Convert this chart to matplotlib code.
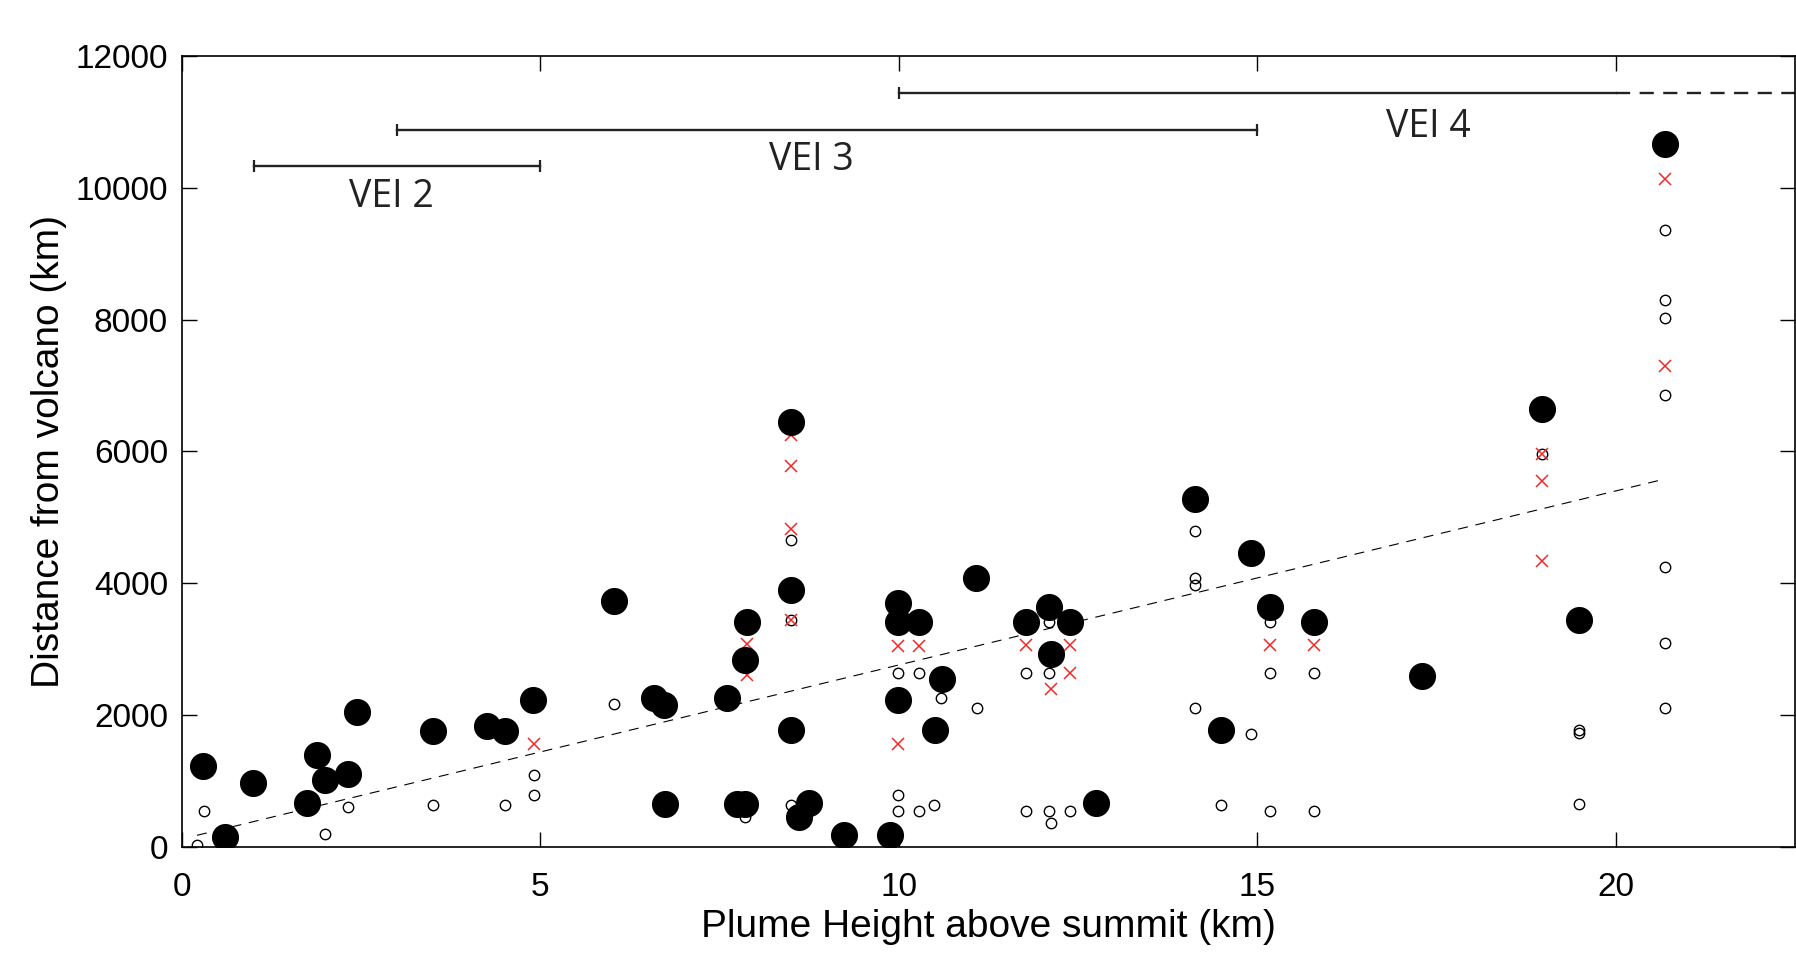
import matplotlib
matplotlib.use('Agg')
import matplotlib.pyplot as plt

# filled circles (large black)
big_x = [0.30, 0.60, 0.99, 1.75, 1.88, 1.99, 2.32, 2.44, 3.50, 4.26, 4.51, 4.90,
         6.03, 6.59, 6.72, 6.74, 7.60, 7.75, 7.85, 7.89, 7.86, 8.50, 8.50, 8.50,
         8.61, 8.75, 9.24, 9.88, 9.99, 9.99, 9.99, 10.28, 10.50, 10.60, 11.08,
         11.78, 12.09, 12.12, 12.39, 12.75, 14.13, 14.50, 14.92, 15.18, 15.79,
         17.30, 18.97, 19.49, 20.69]
big_y = [1235, 152, 977, 663, 1397, 1013, 1114, 2041, 1767, 1828, 1767, 2228,
         3732, 2263, 2152, 659, 2263, 659, 659, 3409, 2831, 6447, 3899, 1768,
         456, 668, 188, 188, 3697, 3418, 2228, 3418, 1768, 2547, 4086,
         3413, 3646, 2923, 3413, 668, 5282, 1773, 4466, 3646, 3413,
         2598, 6644, 3445, 10668]

# small open circles
open_x = [0.21, 0.31, 2.00, 2.32, 3.50, 4.51, 4.91, 4.91, 6.03, 7.86, 8.50, 8.50,
          8.50, 9.99, 9.99, 9.99, 10.28, 10.28, 10.49, 10.59, 11.09, 11.78, 11.78,
          12.09, 12.09, 12.09, 12.12, 12.39, 14.13, 14.13, 14.13, 14.13, 14.50,
          14.92, 15.18, 15.18, 15.18, 15.79, 15.79, 18.97, 19.49, 19.49, 19.49,
          20.69, 20.69, 20.69, 20.69, 20.69, 20.69, 20.69]
open_y = [30, 547, 192, 608, 633, 633, 1099, 785, 2163, 456, 4659, 3443,
          644, 2643, 785, 542, 2643, 542, 644, 2254, 2111, 2643, 547,
          3413, 2643, 547, 365, 547, 4796, 4077, 3975, 2111, 638,
          1707, 3413, 2643, 547, 2643, 547, 5969, 1774, 1722, 646,
          9354, 8293, 8025, 6860, 4254, 3088, 2101]

# red crosses
cross_x = [4.91, 7.89, 7.89, 8.50, 8.50, 8.50, 8.50, 9.99, 9.99, 10.28, 11.78,
           12.12, 12.39, 12.39, 15.18, 15.79, 18.97, 18.97, 18.97, 20.69, 20.69]
cross_y = [1559, 3074, 2613, 6254, 5787, 4830, 3443, 3053, 1555, 3053, 3064,
           2400, 3064, 2643, 3064, 3064, 5969, 5553, 4343, 10134, 7290]

# trend line end points
fit_x = [0.21, 20.66]
fit_y = [177, 5575]

# VEI ranges
vei_names = ['VEI 2', 'VEI 3', 'VEI 4']
vei_start = [1, 3, 10]
vei_end = [5, 15, 20]
vei_level = [10329, 10880, 11444]
vei_text_x = [2.92, 8.78, 17.39]
vei_text_y = [9712, 10270, 10776]

fig = plt.figure(figsize=(17.96, 9.55), dpi=100)
ax = fig.add_axes([0.1013, 0.1131, 0.898, 0.8283])

ax.plot(open_x, open_y, 'o', ms=7.5, mfc='none', mec='black', mew=1.0)
ax.plot(cross_x, cross_y, 'x', ms=9, color='#f02828', mew=1.1)
ax.plot(big_x, big_y, 'o', ms=18.5, color='black')
ax.plot(fit_x, fit_y, '--', color='black', lw=0.8, dashes=(9, 7))

for i in range(3):
    ax.plot([vei_start[i], vei_end[i]], [vei_level[i]] * 2, color='#222222', lw=1.7)
    ax.plot([vei_start[i]], [vei_level[i]], '|', color='#222222', ms=9, mew=1.6)
    if i < 2:
        ax.plot([vei_end[i]], [vei_level[i]], '|', color='#222222', ms=9, mew=1.6)
    ax.text(vei_text_x[i], vei_text_y[i], vei_names[i], ha='center', va='baseline',
            fontsize=27, family='Open Sans', color='#222222')
# dashed continuation of VEI 4
ax.plot([vei_end[2], 23], [vei_level[2]] * 2, '--', color='#222222', lw=1.7,
        dashes=(6, 4))

ax.set_xlim(0, 22.5)
ax.set_ylim(0, 12000)
ax.set_xticks([0, 5, 10, 15, 20])
ax.set_yticks(range(0, 12001, 2000))
ax.tick_params(direction='in', length=11, width=1, labelsize=24,
               top=True, right=True, pad=10)
ax.tick_params(axis='x', pad=18)
for lab in ax.get_xticklabels() + ax.get_yticklabels():
    lab.set_family('Liberation Sans')
for s in ax.spines.values():
    s.set_linewidth(1.2)

ax.set_xlabel('Plume Height above summit (km)', fontsize=28, family='Liberation Sans',
              labelpad=4)
ax.set_ylabel('Distance from volcano (km)', fontsize=28, family='Liberation Sans',
              labelpad=6)

fig.savefig('out.png', dpi=100)
